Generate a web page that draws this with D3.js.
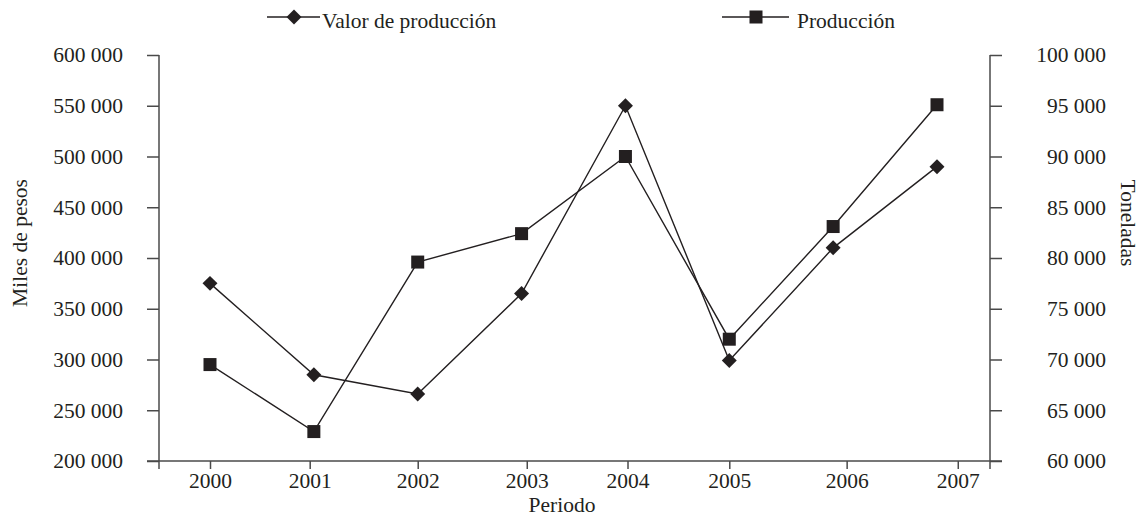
<!DOCTYPE html>
<html><head><meta charset="utf-8">
<script src="https://cdn.jsdelivr.net/npm/d3@7"></script>
<style>body{margin:0;background:#fff}text{font-family:"Liberation Serif","Times New Roman",serif;fill:#231f20}</style>
</head><body><svg id="c" width="1139" height="526"></svg>
<script>
const years = [2000,2001,2002,2003,2004,2005,2006,2007];
const valorProduccion = [375000,285000,266000,365000,550000,299000,410000,490000];
const produccion = [69500,62900,79600,82400,90000,72000,83100,95100];
const xTickPos = [2000,2000.96,2002,2003.05,2004.02,2005,2006.13,2007.2];
const xTickLabels = ["2000","2001","2002","2003","2004","2005","2006","2007"];
const leftTicks = [200000,250000,300000,350000,400000,450000,500000,550000,600000];
const rightTicks = [60000,65000,70000,75000,80000,85000,90000,95000,100000];

const svg = d3.select("#c");
const L=159,R=990,T=55,B=461;
const x = d3.scaleLinear().domain([2000,2007]).range([210,937]);
const yL = d3.scaleLinear().domain([200000,600000]).range([B,T]);
const yR = d3.scaleLinear().domain([60000,100000]).range([B,T]);
const fmt = d=>d3.format(",")(d).replace(/,/g," ");
const ink="#231f20", axc="#4a4a4a";
const fs=21.5;

// axes
const gL = svg.append("g").attr("transform",`translate(${L},0)`)
  .call(d3.axisLeft(yL).tickValues(leftTicks).tickFormat(fmt).tickSize(12).tickPadding(24).tickSizeOuter(0));
const gR = svg.append("g").attr("transform",`translate(${R},0)`)
  .call(d3.axisRight(yR).tickValues(rightTicks).tickFormat(fmt).tickSize(12).tickPadding(104).tickSizeOuter(0));
gR.selectAll("text").attr("text-anchor","end");
const gX = svg.append("g").attr("transform",`translate(0,${B})`)
  .call(d3.axisBottom(x).tickValues(xTickPos).tickFormat((d,i)=>xTickLabels[i]).tickSize(8).tickSizeOuter(0));
gX.selectAll("text").attr("y",27).attr("dy","0");
gX.select(".domain").attr("d",`M${L-12},0H${R+12}`);
gL.select(".domain").attr("d",`M0,${T}V${B+8}`);
gR.select(".domain").attr("d",`M0,${T}V${B+8}`);
[gL,gR,gX].forEach(g=>{
  g.selectAll("path,line").attr("stroke",axc).attr("stroke-width",1.5);
  g.selectAll("text").style("font-size",fs+"px").attr("fill",ink).attr("font-family","Liberation Serif");
});

// lines
const lineL = d3.line().x((d,i)=>x(years[i])).y(d=>yL(d));
const lineR = d3.line().x((d,i)=>x(years[i])).y(d=>yR(d));
svg.append("path").attr("d",lineL(valorProduccion)).attr("fill","none").attr("stroke",ink).attr("stroke-width",1.4);
svg.append("path").attr("d",lineR(produccion)).attr("fill","none").attr("stroke",ink).attr("stroke-width",1.4);
const diamond = d3.symbol().type(d3.symbolSquare).size(112);
svg.selectAll(".dm").data(valorProduccion).join("path").attr("d",diamond)
  .attr("transform",(d,i)=>`translate(${x(years[i])},${yL(d)}) rotate(45)`).attr("fill",ink);
svg.selectAll(".sq").data(produccion).join("rect")
  .attr("x",(d,i)=>x(years[i])-6.5).attr("y",d=>yR(d)-6.5).attr("width",13).attr("height",13).attr("fill",ink);

// legend
const lg = svg.append("g");
lg.append("line").attr("x1",267).attr("x2",320).attr("y1",17).attr("y2",17).attr("stroke",ink).attr("stroke-width",1.4);
lg.append("path").attr("d",diamond).attr("transform","translate(294,17) rotate(45)").attr("fill",ink);
lg.append("text").attr("x",322).attr("y",28).style("font-size",fs+"px").text("Valor de producción");
lg.append("line").attr("x1",722).attr("x2",789).attr("y1",17).attr("y2",17).attr("stroke",ink).attr("stroke-width",1.4);
lg.append("rect").attr("x",749.5).attr("y",10.5).attr("width",13).attr("height",13).attr("fill",ink);
lg.append("text").attr("x",797).attr("y",28).style("font-size",fs+"px").text("Producción");

// axis titles
svg.append("text").attr("transform","translate(20,243) rotate(-90)").attr("text-anchor","middle").attr("dominant-baseline","central").style("font-size",fs+"px").text("Miles de pesos");
svg.append("text").attr("transform","translate(1128,223) rotate(90)").attr("text-anchor","middle").attr("dominant-baseline","central").style("font-size",fs+"px").text("Toneladas");
svg.append("text").attr("x",562).attr("y",512).attr("text-anchor","middle").style("font-size",fs+"px").text("Periodo");
</script></body></html>
